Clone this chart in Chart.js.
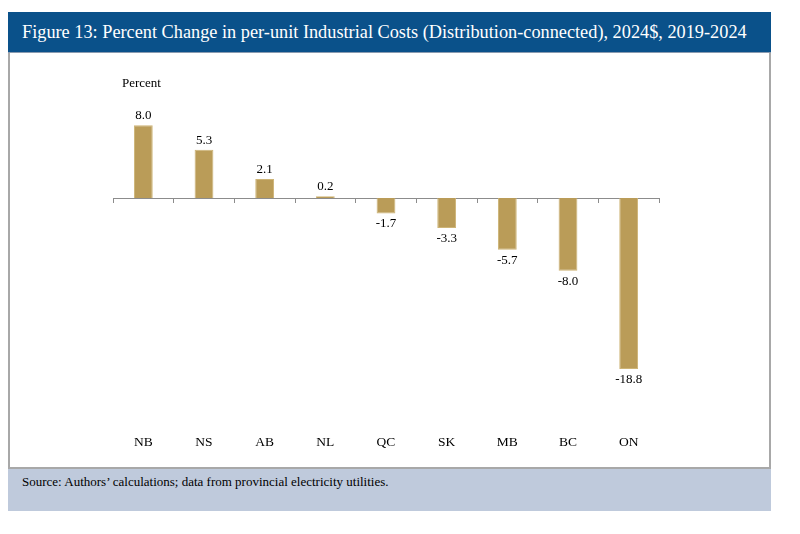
<!DOCTYPE html>
<html>
<head>
<meta charset="utf-8">
<script src="https://cdn.jsdelivr.net/npm/chart.js@4.4.1/dist/chart.umd.min.js"></script>
<style>
  body { margin: 0; background: #fff; font-family: "Liberation Serif", "DejaVu Serif", serif; }
  #banner {
    position: absolute; left: 8px; top: 12px; width: 763px; height: 41px;
    background: #0A518A; color: #fff; font-size: 18.3px; line-height: 41px;
    box-sizing: border-box; padding-left: 14px; white-space: nowrap;
    border-bottom: 1px solid #8a9bb0;
  }
  #box {
    position: absolute; left: 8px; top: 53px; width: 763px; height: 416px;
    box-sizing: border-box; border-left: 2px solid #a8a8a8; border-right: 2px solid #a8a8a8;
    border-bottom: 2px solid #a8a8a8;
  }
  #unit { position: absolute; left: 122px; top: 75px; font-size: 13px; color: #000; }
  #source {
    position: absolute; left: 8px; top: 469px; width: 763px; height: 42px;
    background: #BFCADC; color: #000; font-size: 13px; line-height: 26px;
    box-sizing: border-box; padding-left: 14px;
  }
  #wrap { position: absolute; left: 8px; top: 53px; width: 763px; height: 416px; }
</style>
</head>
<body>
<div id="banner">Figure 13: Percent Change in per-unit Industrial Costs (Distribution-connected), 2024$, 2019-2024</div>
<div id="box"></div>
<div id="wrap"><canvas id="chart"></canvas></div>
<div id="unit">Percent</div>
<div id="source">Source: Authors’ calculations; data from provincial electricity utilities.</div>
<script>
// Dados do gráfico
const provincias = ['NB', 'NS', 'AB', 'NL', 'QC', 'SK', 'MB', 'BC', 'ON'];
const variacao = [8.0, 5.3, 2.1, 0.2, -1.7, -3.3, -5.7, -8.0, -18.8];
const eixoMin = -20;
const eixoMax = 10;

const corBarra = '#BA9C58';
const corEixo = '#8c8c8c';
const fonteSerif = '"Liberation Serif", "DejaVu Serif", serif';

// Rótulos de valor acima/abaixo das barras
const rotulosPlugin = {
    id: 'rotulos',
    afterDatasetsDraw(chart) {
        const ctx = chart.ctx;
        const meta = chart.getDatasetMeta(0);
        ctx.save();
        ctx.font = '13px ' + fonteSerif;
        ctx.fillStyle = '#000';
        ctx.textAlign = 'center';
        meta.data.forEach((bar, i) => {
            const v = variacao[i];
            if (v >= 0) {
                ctx.textBaseline = 'bottom';
                ctx.fillText(v.toFixed(1), bar.x, bar.y - 3);
            } else {
                ctx.textBaseline = 'top';
                ctx.fillText(v.toFixed(1), bar.x, bar.y + 4);
            }
        });
        ctx.restore();
    }
};

new Chart(document.getElementById('chart'), {
    type: 'bar',
    data: {
        labels: provincias,
        datasets: [{
            data: variacao,
            backgroundColor: corBarra,
            borderColor: '#CDB476',
            borderWidth: 1,
            barPercentage: 0.31,
            categoryPercentage: 1
        }]
    },
    options: {
        responsive: true,
        maintainAspectRatio: false,
        animation: false,
        layout: { padding: { left: 105, right: 112, top: 54, bottom: 19 } },
        plugins: {
            legend: { display: false },
            tooltip: { enabled: false }
        },
        scales: {
            y: {
                display: false,
                min: eixoMin,
                max: eixoMax
            },
            x: {
                position: 'bottom',
                grid: { display: false, drawTicks: false },
                border: { display: false },
                ticks: {
                    padding: 54,
                    color: '#000',
                    font: { family: fonteSerif, size: 13.5 }
                },
                afterFit(scale) {
                    scale.height = 70;
                }
            },
            zero: {
                type: 'category',
                axis: 'x',
                position: { y: 0 },
                grid: { offset: true, drawOnChartArea: false, tickLength: 4, color: corEixo },
                border: { color: corEixo, width: 1 },
                ticks: { display: false }
            }
        }
    },
    plugins: [rotulosPlugin]
});
</script>
</body>
</html>
